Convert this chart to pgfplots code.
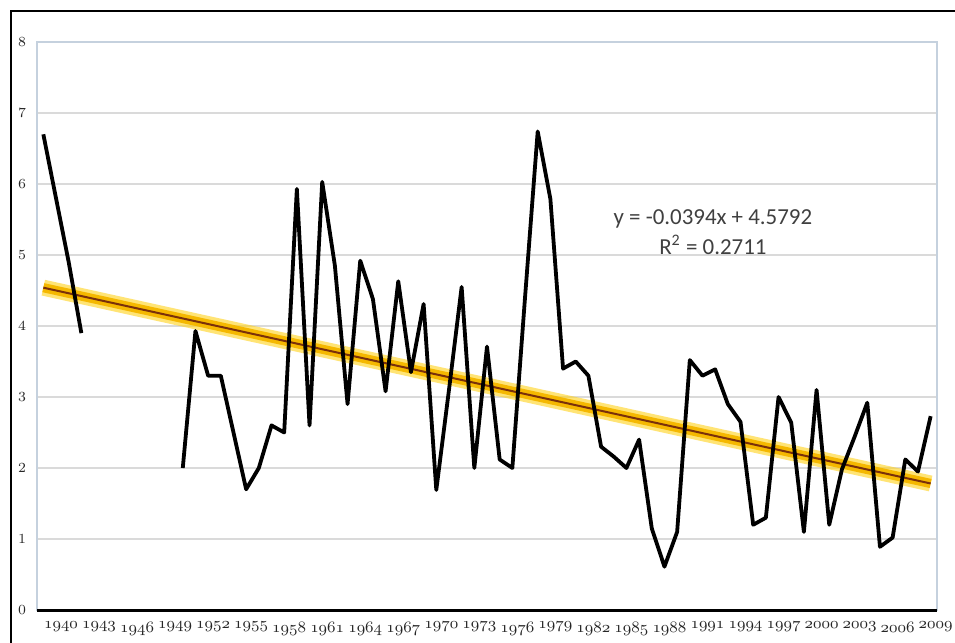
\documentclass[border=0pt]{standalone}
\usepackage{fontspec}
\setmainfont{Carlito}
\usepackage{pgfplots}
\pgfplotsset{compat=1.18}

\definecolor{gridc}{HTML}{DADADA}
\definecolor{axisc}{HTML}{C5D1DE}
\definecolor{baseline}{HTML}{A9BDD2}
\definecolor{glow}{HTML}{FFD21A}
\definecolor{gold}{HTML}{F5B800}
\definecolor{core}{HTML}{7A300A}

\begin{document}
\begin{tikzpicture}
  \path[use as bounding box] (-18.5bp,-16.5bp) rectangle (459bp,305bp);
  \fill[white] (-18.5bp,-16.5bp) rectangle (459bp,305bp);
  \draw[line width=1.2bp] (-13bp,-16.5bp) -- (-13bp,299.5bp) -- (459bp,299.5bp);

  \begin{axis}[
      at={(0,0)}, anchor=south west,
      scale only axis, width=450bp, height=284bp,
      xmin=1938.5, xmax=2009.5,
      ymin=0, ymax=8,
      xtick={1940,1943,1946,1949,1952,1955,1958,1961,1964,1967,1970,1973,
             1976,1979,1982,1985,1988,1991,1994,1997,2000,2003,2006,2009},
      xticklabels={$\mathnormal{1940}$,$\mathnormal{1943}$,$\mathnormal{1946}$,
        $\mathnormal{1949}$,$\mathnormal{1952}$,$\mathnormal{1955}$,
        $\mathnormal{1958}$,$\mathnormal{1961}$,$\mathnormal{1964}$,
        $\mathnormal{1967}$,$\mathnormal{1970}$,$\mathnormal{1973}$,
        $\mathnormal{1976}$,$\mathnormal{1979}$,$\mathnormal{1982}$,
        $\mathnormal{1985}$,$\mathnormal{1988}$,$\mathnormal{1991}$,
        $\mathnormal{1994}$,$\mathnormal{1997}$,$\mathnormal{2000}$,
        $\mathnormal{2003}$,$\mathnormal{2006}$,$\mathnormal{2009}$},
      ytick={0,1,...,8},
      ymajorgrids=true,
      major grid style={gridc, line width=1bp},
      major tick length=0pt,
      axis line style={draw=axisc, line width=0.8bp},
      unbounded coords=jump,
      yticklabel style={font=\fontsize{7}{8}\selectfont\bfseries,
        text=black!85, xshift=-2bp},
      xticklabel style={font=\fontsize{8.5}{9}\selectfont,
        text=black!85, yshift=-2.5bp, xshift=2.5bp},
      clip=false,
    ]

    % bottom axis band
    \draw[baseline, line width=1.5bp] (rel axis cs:0,0) -- (rel axis cs:1,0);

    % linear trend (Excel): y = -0.0394x + 4.5792, x = 1..71
    \addplot[glow, opacity=0.6, line width=8bp, forget plot]
      coordinates {(1939,4.5398)(2009,1.7818)};
    \addplot[gold, line width=4.6bp, forget plot]
      coordinates {(1939,4.5398)(2009,1.7818)};
    \addplot[core, line width=1bp, forget plot]
      coordinates {(1939,4.5398)(2009,1.7818)};

    \addplot[black, line width=1.9bp, line join=round] coordinates {
      (1939,6.7)(1940,5.8)(1941,4.9)(1942,3.9)(1943,nan)
      (1950,2.0)(1951,3.93)(1952,3.3)(1953,3.3)(1954,2.5)
      (1955,1.7)(1956,2.0)(1957,2.6)(1958,2.5)(1959,5.93)
      (1960,2.6)(1961,6.03)(1962,4.85)(1963,2.9)(1964,4.92)
      (1965,4.38)(1966,3.08)(1967,4.63)(1968,3.35)(1969,4.31)
      (1970,1.69)(1971,3.1)(1972,4.55)(1973,2.0)(1974,3.71)
      (1975,2.12)(1976,2.0)(1977,4.4)(1978,6.74)(1979,5.79)
      (1980,3.4)(1981,3.5)(1982,3.3)(1983,2.3)(1984,2.16)
      (1985,2.0)(1986,2.4)(1987,1.15)(1988,0.61)(1989,1.1)
      (1990,3.52)(1991,3.3)(1992,3.39)(1993,2.9)(1994,2.65)
      (1995,1.2)(1996,1.3)(1997,3.0)(1998,2.64)(1999,1.1)
      (2000,3.1)(2001,1.2)(2002,1.98)(2003,2.44)(2004,2.92)
      (2005,0.89)(2006,1.02)(2007,2.12)(2008,1.95)(2009,2.73)
    };

    \node[align=center, text=black!75,
          font=\fontsize{11.5}{15}\selectfont]
      at (rel axis cs:0.751,0.666)
      {y = -0.0394x + 4.5792\\R\textsuperscript{2} = 0.2711};
  \end{axis}
\end{tikzpicture}
\end{document}
